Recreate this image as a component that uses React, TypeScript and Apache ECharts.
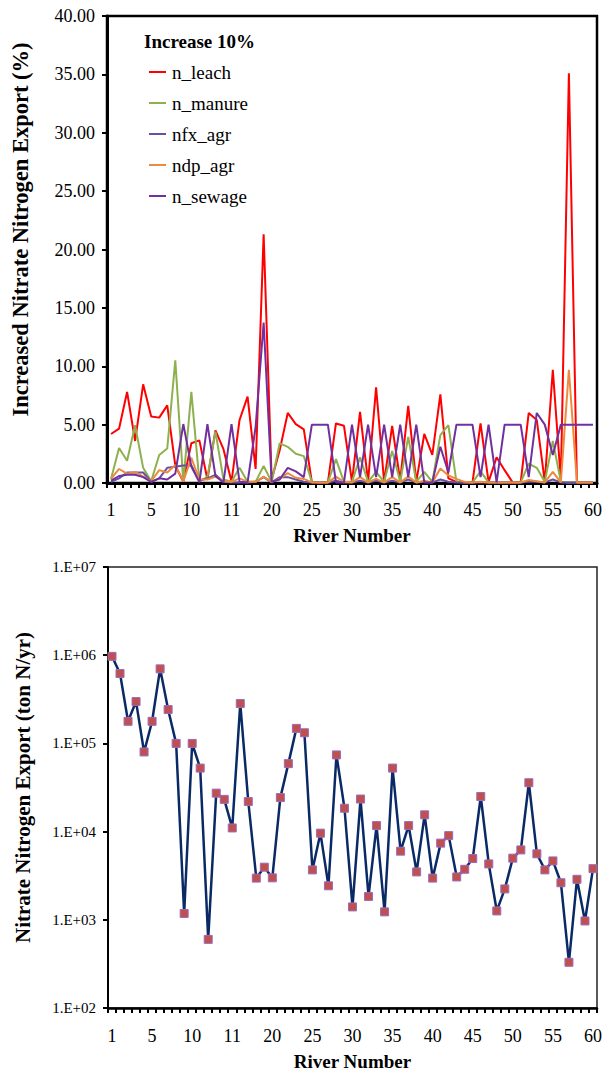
import React, { useEffect, useRef } from "react";
import * as echarts from "echarts";

const FONT = "Liberation Serif";

const riverTickLabels = ["1", "5", "10", "11", "20", "25", "30", "35", "40", "45", "50", "55", "60"];
const riverNumbers = Array.from({ length: 61 }, (_, i) => String(i + 1));

const seriesNames = ["n_leach", "n_manure", "nfx_agr", "ndp_agr", "n_sewage"];
const seriesColors = ["#FF0000", "#8EB14F", "#6A4FA3", "#EE8A3C", "#7030A0"];

const nLeach = [4.2, 4.65, 7.8, 3.6, 8.45, 5.7, 5.6, 6.65, 1.5, 0.1, 3.4, 3.65, 0.3, 4.5, 2.9, 0.1, 5.4, 7.4, 1.2, 21.3, 0.3, 2.8, 6.0, 5.05, 4.6, 0.1, 0.05, 0.05, 5.1, 4.9, 0.1, 6.1, 0.1, 8.2, 0.1, 4.9, 0.2, 6.6, 0.1, 4.2, 2.4, 7.6, 0.4, 0.1, 0.05, 0.05, 5.1, 0.1, 2.2, 1.1, 0.05, 0.05, 6.0, 5.4, 0.1, 9.7, 0.2, 35.1, 0.05, 0.05, 0.05];
const nManure = [0.35, 3.0, 1.9, 4.95, 1.3, 0.15, 2.4, 2.95, 10.5, 0.1, 7.8, 0.15, 0.5, 4.4, 0.3, 0.1, 1.3, 0.1, 0.1, 1.45, 0.1, 3.4, 3.1, 2.5, 2.3, 0.1, 0.05, 0.05, 2.05, 0.1, 0.1, 2.2, 0.1, 0.95, 0.1, 2.75, 0.1, 3.95, 0.1, 0.95, 0.1, 4.1, 4.95, 0.1, 0.05, 0.05, 1.0, 0.05, 0.05, 0.05, 0.05, 0.05, 1.65, 1.3, 0.1, 3.6, 0.1, 0.05, 0.05, 0.05, 0.05];
const nfxAgr = [0.1, 0.4, 0.9, 0.9, 0.9, 0.1, 0.4, 1.3, 1.4, 1.5, 1.5, 0.2, 0.4, 0.7, 0.1, 0.05, 0.05, 0.05, 0.1, 0.5, 0.05, 0.5, 0.5, 0.3, 0.1, 0.05, 0.05, 0.05, 0.2, 0.05, 0.05, 0.2, 0.05, 0.2, 0.05, 0.2, 0.05, 0.3, 0.05, 0.1, 0.05, 0.3, 0.1, 0.05, 0.05, 0.05, 0.05, 0.05, 0.05, 0.05, 0.05, 0.05, 0.1, 0.1, 0.05, 0.3, 0.05, 0.05, 0.05, 0.05, 0.05];
const ndpAgr = [0.35, 1.2, 0.8, 0.95, 0.55, 0.15, 1.1, 0.9, 1.55, 0.15, 2.15, 0.3, 0.3, 0.55, 0.15, 0.1, 0.4, 0.1, 0.1, 0.55, 0.1, 0.35, 0.85, 0.45, 0.35, 0.05, 0.05, 0.05, 0.55, 0.1, 0.05, 0.5, 0.05, 0.35, 0.05, 0.5, 0.05, 0.55, 0.05, 0.2, 0.05, 1.25, 0.65, 0.35, 0.1, 0.05, 0.1, 0.05, 0.05, 0.05, 0.05, 0.05, 0.25, 0.15, 0.05, 0.95, 0.05, 9.7, 0.05, 0.05, 0.05];
const nSewage = [0.2, 0.6, 0.7, 0.7, 0.5, 0.1, 0.4, 0.3, 0.8, 5.05, 1.4, 0.05, 5.05, 0.6, 0.05, 5.05, 0.1, 0.05, 4.8, 13.75, 0.1, 0.3, 1.3, 1.0, 0.5, 5.0, 5.0, 5.0, 0.05, 0.05, 5.0, 0.5, 5.0, 0.5, 5.0, 0.5, 5.0, 0.5, 5.0, 0.05, 0.05, 3.1, 0.9, 5.0, 5.0, 5.0, 0.5, 5.0, 0.05, 5.0, 5.0, 5.0, 0.5, 6.0, 5.0, 2.4, 5.0, 5.0, 5.0, 5.0, 5.0];

const exportTonN = [9.7e5, 6.2e5, 1.78e5, 2.98e5, 8e4, 1.78e5, 7e5, 2.42e5, 1e5, 1.18e3, 1e5, 5.25e4, 6e2, 2.73e4, 2.32e4, 1.1e4, 2.83e5, 2.19e4, 2.97e3, 3.95e3, 2.99e3, 2.43e4, 5.9e4, 1.48e5, 1.32e5, 3.68e3, 9.6e3, 2.43e3, 7.4e4, 1.84e4, 1.4e3, 2.34e4, 1.84e3, 1.17e4, 1.23e3, 5.25e4, 6e3, 1.17e4, 3.49e3, 1.55e4, 2.97e3, 7.4e3, 9e3, 3.06e3, 3.74e3, 4.95e3, 2.5e4, 4.3e3, 1.26e3, 2.24e3, 5e3, 6.2e3, 3.58e4, 5.6e3, 3.68e3, 4.65e3, 2.63e3, 3.3e2, 2.88e3, 9.7e2, 3.8e3];

const topSeriesData = [nLeach, nManure, nfxAgr, ndpAgr, nSewage];

export default function App() {
  const ref = useRef<HTMLDivElement>(null);
  useEffect(() => {
    if (!ref.current) return;
    const chart = echarts.init(ref.current, null, { renderer: "svg" });
    const makeXLabel = (margin: number) => ({
      interval: 0,
      fontFamily: FONT,
      fontSize: 18,
      color: "#000",
      margin,
      formatter: (_v: string, idx: number) => (idx % 5 === 0 ? riverTickLabels[idx / 5] : ""),
    });
    const xAxisCommon = {
      type: "category",
      data: riverNumbers,
      boundaryGap: true,
      axisLine: { lineStyle: { color: "#000", width: 3 } },
      axisTick: { show: true, interval: 0, length: 5, lineStyle: { color: "#000", width: 2 } },
      splitLine: { show: false },
      nameLocation: "middle",
      nameTextStyle: { fontFamily: FONT, fontSize: 19, fontWeight: "bold", color: "#000" },
    };
    const option: any = {
      animation: false,
      backgroundColor: "#fff",
      textStyle: { fontFamily: FONT },
      title: {
        text: "Increase 10%",
        left: 139,
        top: 27,
        textStyle: { fontFamily: FONT, fontSize: 19, fontWeight: "bold", color: "#000" },
      },
      legend: {
        data: seriesNames,
        orient: "vertical",
        left: 144,
        top: 57,
        icon: "rect",
        itemWidth: 17,
        itemHeight: 2,
        itemGap: 11,
        textStyle: { fontFamily: FONT, fontSize: 19, color: "#000", lineHeight: 20, padding: [0, 0, 0, 1] },
      },
      grid: [
        { left: 107, top: 16, width: 490, height: 467, show: true, borderColor: "#000", borderWidth: 2.5 },
        { left: 108, top: 567, width: 489, height: 442, show: true, borderColor: "#222", borderWidth: 1.5 },
      ],
      xAxis: [
        { ...xAxisCommon, gridIndex: 0, axisLabel: makeXLabel(18), name: "River Number", nameGap: 43 },
        {
          ...xAxisCommon,
          gridIndex: 1,
          axisLine: { lineStyle: { color: "#000", width: 2.5 } },
          axisLabel: makeXLabel(19),
          name: "River Number",
          nameGap: 44,
        },
      ],
      yAxis: [
        {
          gridIndex: 0,
          type: "value",
          min: 0,
          max: 40,
          interval: 5,
          axisLine: { show: true, lineStyle: { color: "#000", width: 3 } },
          axisTick: { show: true, length: 5, lineStyle: { color: "#000", width: 2 } },
          splitLine: { show: false },
          axisLabel: { fontFamily: FONT, fontSize: 18, color: "#000", margin: 12, formatter: (v: number) => v.toFixed(2) },
          name: "Increased Nitrate Nitrogen Export (%)",
          nameLocation: "middle",
          nameGap: 75,
          nameTextStyle: { fontFamily: FONT, fontSize: 22.5, fontWeight: "bold", color: "#000", padding: [0, 0, 0, 40] },
        },
        {
          gridIndex: 1,
          type: "log",
          logBase: 10,
          min: 100,
          max: 1e7,
          axisLine: { show: true, lineStyle: { color: "#000", width: 2 } },
          axisTick: { show: true, length: 5, lineStyle: { color: "#000", width: 2 } },
          splitLine: { show: false },
          minorTick: { show: false },
          axisLabel: {
            fontFamily: FONT,
            fontSize: 15,
            color: "#000",
            margin: 12,
            formatter: (v: number) => "1.E+" + String(Math.round(Math.log10(v))).padStart(2, "0"),
          },
          name: "Nitrate Nitrogen Export (ton N/yr)",
          nameLocation: "middle",
          nameGap: 75,
          nameTextStyle: { fontFamily: FONT, fontSize: 21, fontWeight: "bold", color: "#000" },
        },
      ],
      series: [
        ...seriesNames.map((name, k) => ({
          name,
          type: "line",
          xAxisIndex: 0,
          yAxisIndex: 0,
          data: topSeriesData[k],
          showSymbol: false,
          symbol: "none",
          color: seriesColors[k],
          lineStyle: { width: 2, color: seriesColors[k] },
          z: 2 + k,
        })),
        {
          name: "Nitrate Nitrogen Export",
          type: "line",
          xAxisIndex: 1,
          yAxisIndex: 1,
          data: exportTonN,
          symbol: "rect",
          symbolSize: 8,
          showSymbol: true,
          lineStyle: { width: 2.5, color: "#0A2A66" },
          itemStyle: { color: "#C0504D", borderColor: "#9A6BC0", borderWidth: 1 },
        },
      ],
    };
    chart.setOption(option);
    return () => chart.dispose();
  }, []);
  return <div ref={ref} style={{ position: "absolute", left: 0, top: 0, width: 608, height: 1072 }} />;
}
